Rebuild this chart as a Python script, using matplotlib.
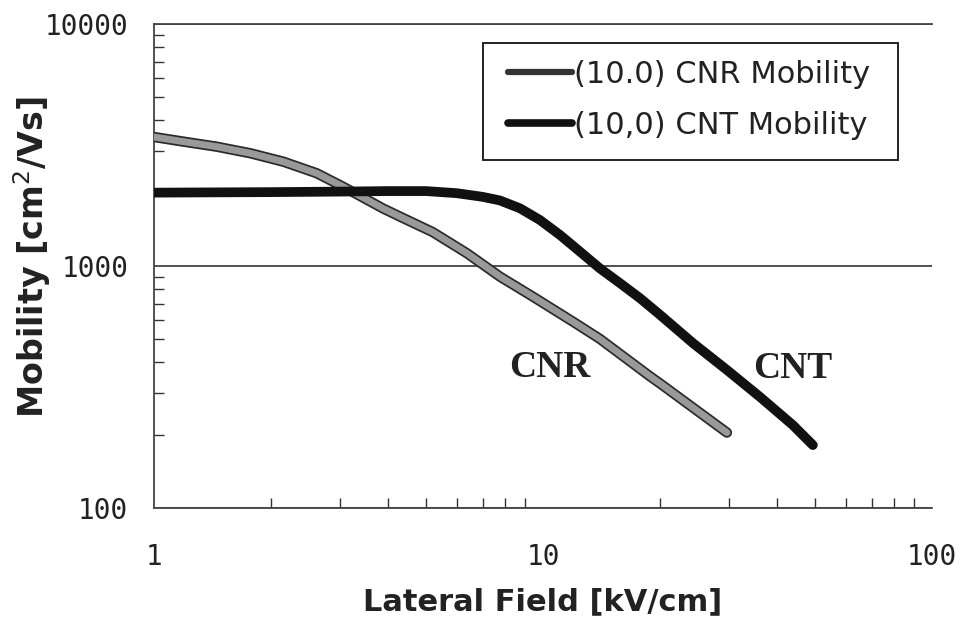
import numpy as np
import matplotlib
matplotlib.use("Agg")
import matplotlib.pyplot as plt
import matplotlib.patheffects as pe
from matplotlib.patches import Rectangle
from matplotlib.ticker import LogLocator, NullFormatter, FixedLocator

# values
cnr_field = [1, 1.19, 1.45, 1.77, 2.15, 2.62, 3.06, 3.88, 4.29, 5.21, 6.38, 7.75,
             9.42, 11.94, 14.0, 18.84, 20.0, 29.7]
cnr_mob = [3413, 3266, 3112, 2923, 2699, 2417, 2128, 1729, 1600, 1380, 1128, 904,
           747, 589, 500, 350, 327, 205]

cnt_field = [1, 2, 3, 4, 5, 6, 7.01, 7.75, 8.73, 9.82, 11.06, 12.45, 14.01, 15.78,
             17.76, 20.0, 24.3, 29.7, 36.1, 43.9, 49.4]
cnt_mob = [2010, 2020, 2030, 2040, 2040, 2000, 1930, 1866, 1731, 1549, 1343, 1146, 977,
           849, 736, 628, 480, 372, 288, 220, 182]

xticks = [1, 10, 100]
yticks = [100, 1000, 10000]
xticklabels = ["1", "10", "100"]
yticklabels = ["100", "1000", "10000"]

fig = plt.figure(figsize=(9.65, 6.19), dpi=100)
ax = fig.add_axes([0.1596, 0.1793, 0.8062, 0.7819])

ax.plot(cnr_field, cnr_mob, color="#999999", lw=5, solid_capstyle="round",
        path_effects=[pe.Stroke(linewidth=7.5, foreground="#2a2a2a"), pe.Normal()],
        label="(10.0) CNR Mobility", zorder=3)
ax.plot(cnt_field, cnt_mob, color="#111111", lw=7, solid_capstyle="round",
        label="(10,0) CNT Mobility", zorder=4)

ax.set_xscale("log")
ax.set_yscale("log")
ax.set_xlim(1, 100)
ax.set_ylim(100, 10000)

ax.xaxis.set_major_locator(FixedLocator(xticks))
ax.yaxis.set_major_locator(FixedLocator(yticks))
ax.set_xticklabels(xticklabels)
ax.set_yticklabels(yticklabels)
ax.xaxis.set_minor_locator(LogLocator(base=10, subs=np.arange(2, 10)))
ax.yaxis.set_minor_locator(LogLocator(base=10, subs=np.arange(2, 10)))
ax.xaxis.set_minor_formatter(NullFormatter())
ax.yaxis.set_minor_formatter(NullFormatter())

for lab in ax.get_xticklabels() + ax.get_yticklabels():
    lab.set_family("DejaVu Sans Mono")

ax.tick_params(which="both", direction="in", color="#333333")
ax.tick_params(which="major", length=0, labelsize=20, labelcolor="#222222")
ax.tick_params(axis="y", which="major", pad=18.5)
ax.tick_params(axis="x", which="major", pad=25)
ax.tick_params(which="minor", length=7, width=1)

ax.grid(axis="y", which="major", color="#333333", lw=1.2)
for s in ["left", "bottom", "top"]:
    ax.spines[s].set_color("#444444")
    ax.spines[s].set_linewidth(1.3)
ax.spines["right"].set_visible(False)

ax.set_xlabel("Lateral Field [kV/cm]", fontsize=22, fontweight="bold", color="#222222")
ax.xaxis.set_label_coords(0.5, -0.163)
ax.set_ylabel("Mobility [cm$^2$/Vs]", fontsize=24, fontweight="bold", color="#222222")
ax.yaxis.set_label_coords(-0.130, 0.5186)

ax.text(10.4, 348, "CNR", fontsize=27, fontweight="bold", family="Liberation Serif",
        ha="center", va="baseline", color="#222222")
ax.text(43.9, 346, "CNT", fontsize=27, fontweight="bold", family="Liberation Serif",
        ha="center", va="baseline", color="#222222")

# legend box drawn separately so its padding can match
box = Rectangle((483 / 965, 1 - 160 / 619), 415 / 965, 117 / 619,
                transform=fig.transFigure, facecolor="white", edgecolor="#222222",
                lw=1.4, zorder=5, clip_on=False)
ax.add_patch(box)
leg = ax.legend(loc="upper left", bbox_to_anchor=(508 / 965, 1 - 60 / 619),
                bbox_transform=fig.transFigure, fontsize=22, frameon=False,
                handlelength=2.1, handletextpad=0.05, borderpad=0, borderaxespad=0,
                labelspacing=0.72)
leg.set_zorder(6)
lw_leg = [4.5, 5.5]
for ln, w in zip(leg.get_lines(), lw_leg):
    ln.set_linewidth(w)
    ln.set_path_effects([])
    ln.set_solid_capstyle("round")
leg.get_lines()[0].set_color("#333333")
for t in leg.get_texts():
    t.set_color("#222222")

fig.savefig("out.png", dpi=100)
